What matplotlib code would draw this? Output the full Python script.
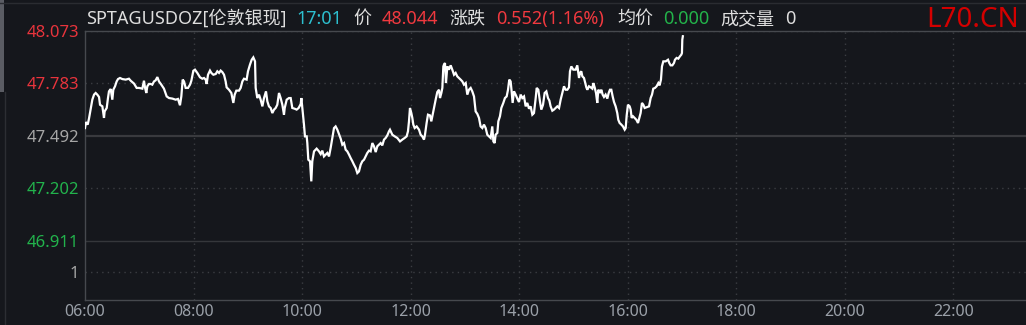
import matplotlib
matplotlib.use("Agg")
import matplotlib.pyplot as plt
from matplotlib.patches import Rectangle
from matplotlib.lines import Line2D

# ---- data: minutes since 06:00 and price ----
minutes = [
    0, 1, 3, 4.4, 6.3, 8.1, 10.0, 11.8, 13.6, 15.5, 16.6, 19.2, 21.0, 21.7, 24.0, 25.4, 26.5, 28.4,
    30.2, 31.3, 33.2, 35.0, 36.5, 38.7, 41.3, 45.0, 48.6, 50.5, 54.2, 57.1, 59.7, 63.4, 65.2, 66.3,
    67.8, 68.9, 70.8, 72.6, 74.4, 76.3, 78.1, 80.0, 81.8, 84.4, 87.3, 90.3, 92.9, 96.6, 100.2, 102.8,
    105.0, 106.5, 108.0, 109.5, 111.3, 113.9, 116.1, 117.6, 119.8, 121.6, 124.2, 127.1, 129.7,
    131.6, 133.4, 134.5, 136.0, 138.2, 139.7, 141.9, 144.5, 146.3, 148.2, 150.0, 151.8, 153.7, 155.5,
    156.6, 159.2, 161.8, 164.0, 165.5, 167.3, 170.3, 172.1, 174.0, 175.8, 178.7, 180.2, 182.4, 184.3,
    186.1, 188.0, 188.7, 190.5, 192.4, 194.2, 196.1, 197.9, 200.1, 201.6, 203.4, 205.3, 207.1, 209.0,
    210.8, 212.6, 214.5, 216.3, 218.2, 220.0, 220.8, 223.0, 225.5, 227.4, 229.2, 231.8, 234.0, 236.2,
    238.5, 239.2, 240.3, 242.1, 243.2, 245.1, 245.8, 246.9, 248.8, 250.2, 251.3, 253.2, 256.1, 258.7,
    260.6, 262.4,
    264.2, 266.1, 267.9, 269.8, 271.6, 273.5, 275.3, 277.1, 279.0, 280.8, 282.7, 284.5, 286.4, 288.2,
    290.0, 291.9, 293.7, 295.6, 297.4, 299.3, 301.1, 302.9, 304.8, 306.6, 308.5, 310.3, 312.1, 314.0,
    315.8, 317.7, 319.5, 321.4, 323.2, 325.0, 326.9, 328.7, 330.6, 332.4, 334.3, 336.1, 337.2, 339.8,
    342.4, 345.3, 348.3, 350.8, 353.4, 355.6, 357.1, 358.2, 359.3, 360.8, 361.9, 363.0, 364.5, 366.7,
    369.3, 371.1, 372.9, 374.8, 375.9, 377.7, 379.2, 381.4, 382.9, 384.0, 385.9, 387.7, 389.5, 391.4,
    392.5, 394.0, 395.1, 396.2,
    396.9, 398.0, 399.1, 400.6, 402.4, 404.3, 406.1, 408.0, 409.8, 411.6, 413.5, 415.3, 417.2, 419.0,
    420.9, 422.7, 424.5, 426.4, 428.2, 430.1, 431.9, 433.8, 435.6, 437.4, 439.3, 441.1, 443.0, 444.8,
    446.7, 448.5, 450.3, 451.5, 452.9, 454.0, 455.9, 457.0, 458.8, 460.3, 462.5, 464.3, 466.2, 467.7,
    469.1, 470.6, 471.7, 472.8, 474.3, 476.1, 478.0, 479.8, 481.7, 483.5, 485.4, 487.2, 489.0, 490.9,
    492.7, 494.6, 496.4, 498.3, 499.4, 501.2, 503.0, 504.5, 506.4, 508.2, 510.1, 511.9, 513.4, 514.8,
    516.7, 518.5, 520.4, 522.2, 524.1, 525.9, 527.7, 529.6,
    531.4, 533.3, 535.1, 536.2, 537.7, 539.9, 542.5, 544.3, 546.2, 547.3, 548.7, 549.9, 551.7, 552.8,
    554.3, 555.4, 557.2, 559.1, 560.9, 562.0, 563.5, 565.0, 566.4, 567.5, 569.4, 570.9, 572.3, 573.8,
    575.6, 577.5, 579.0, 580.4, 581.9, 583.4, 584.9, 586.7, 588.5, 589.6, 591.1, 593.0, 594.8, 596.7,
    597.8, 598.9, 600.3, 602.2, 603.3, 604.4, 605.9, 607.7, 609.6, 611.4, 612.9, 614.3, 615.8, 617.3,
    618.8, 621.0, 623.6, 625.4, 626.9, 628.3, 630.2, 632.0, 633.9, 635.3, 636.8, 637.9, 639.4, 642.0,
    644.6, 646.0, 647.5, 649.4, 651.2, 652.3, 654.1, 656.0, 657.8, 659.3, 660.0, 660.4, 661.0,
]
prices = [
    47.536, 47.569, 47.555, 47.588, 47.643, 47.693, 47.721, 47.730, 47.721, 47.708, 47.665, 47.656, 47.592, 47.628, 47.647, 47.702, 47.739, 47.752,
    47.693, 47.748, 47.767, 47.794, 47.807, 47.813, 47.807, 47.804, 47.809, 47.798, 47.782, 47.758, 47.758, 47.754, 47.798, 47.761,
    47.730, 47.767, 47.780, 47.780, 47.776, 47.794, 47.800, 47.818, 47.794, 47.776, 47.754, 47.711, 47.702, 47.699, 47.693, 47.697,
    47.662, 47.711, 47.804, 47.794, 47.758, 47.758, 47.776, 47.798, 47.853, 47.859, 47.841, 47.817, 47.809,
    47.813, 47.804, 47.780, 47.831, 47.854, 47.841, 47.831, 47.835, 47.850, 47.841, 47.854, 47.846, 47.831, 47.794,
    47.761, 47.748, 47.730, 47.675, 47.721, 47.743, 47.743, 47.758, 47.794, 47.809, 47.804, 47.850, 47.887, 47.914,
    47.927, 47.905, 47.758, 47.702, 47.721, 47.693, 47.656, 47.702, 47.739, 47.684, 47.656, 47.647, 47.619, 47.638,
    47.647, 47.665, 47.730, 47.702, 47.665, 47.610, 47.647, 47.693, 47.702, 47.702, 47.647, 47.643, 47.638, 47.647,
    47.669, 47.702, 47.647, 47.555, 47.490, 47.490, 47.453, 47.361, 47.352, 47.241, 47.352, 47.407, 47.422, 47.407,
    47.392, 47.411,
    47.379, 47.389, 47.398, 47.379, 47.426, 47.481, 47.536, 47.545, 47.527, 47.503, 47.477, 47.444, 47.453, 47.416,
    47.407, 47.389, 47.370, 47.352, 47.333, 47.315, 47.287, 47.296, 47.333, 47.352, 47.361, 47.379, 47.398, 47.411,
    47.407, 47.453, 47.435, 47.403, 47.435, 47.444, 47.453, 47.440, 47.472, 47.481, 47.496, 47.518, 47.527, 47.499,
    47.490, 47.481, 47.462, 47.472, 47.481, 47.490, 47.518, 47.573, 47.647, 47.619, 47.592, 47.555, 47.536, 47.545,
    47.527, 47.499, 47.490, 47.472, 47.499, 47.564, 47.610, 47.606, 47.573, 47.601, 47.647, 47.693, 47.735, 47.748,
    47.702, 47.730, 47.758, 47.877,
    47.887, 47.896, 47.785, 47.877, 47.859, 47.883, 47.859, 47.831, 47.841, 47.822, 47.813, 47.804, 47.794, 47.776,
    47.785, 47.721, 47.748, 47.758, 47.739, 47.711, 47.628, 47.614, 47.592, 47.545, 47.536, 47.555, 47.536, 47.499,
    47.490, 47.481, 47.545, 47.462, 47.453, 47.499, 47.509, 47.573, 47.601, 47.647, 47.675, 47.702, 47.711, 47.748,
    47.804, 47.794, 47.739, 47.675, 47.739, 47.721, 47.699, 47.680, 47.721, 47.702, 47.711, 47.656, 47.675, 47.643,
    47.656, 47.610, 47.619, 47.702, 47.758, 47.748, 47.684, 47.638, 47.665, 47.730, 47.739, 47.702, 47.688, 47.656,
    47.632, 47.638, 47.647, 47.656, 47.647, 47.693, 47.730, 47.767,
    47.748, 47.748, 47.761, 47.850, 47.877, 47.859, 47.859, 47.883, 47.813, 47.841, 47.850, 47.822, 47.813, 47.791,
    47.761, 47.748, 47.767, 47.761, 47.754, 47.785, 47.761, 47.730, 47.675, 47.748, 47.735, 47.748, 47.721, 47.708,
    47.721, 47.699, 47.730, 47.748, 47.748, 47.711, 47.680, 47.656, 47.619, 47.582, 47.564, 47.555, 47.545, 47.527,
    47.536, 47.606, 47.665, 47.656, 47.638, 47.592, 47.601, 47.592, 47.582, 47.564, 47.592, 47.619, 47.675, 47.665,
    47.647, 47.651, 47.656, 47.702, 47.721, 47.754, 47.758, 47.767, 47.785, 47.772, 47.804, 47.877, 47.905, 47.905,
    47.914, 47.896, 47.883, 47.883, 47.896, 47.914, 47.924, 47.920, 47.933, 47.942, 47.951, 48.025, 48.044,
]

y_ticks = [48.073, 47.783, 47.492, 47.202, 46.911, 46.741]
y_labels = ["48.073", "47.783", "47.492", "47.202", "46.911", "1"]
y_colors = ["#e8343c", "#e8343c", "#a6a6a6", "#22b34c", "#22b34c", "#a6a6a6"]
y_styles = ["dotted", "dotted", "solid_mid", "dotted", "solid", "dotted"]
x_ticks = [0, 120, 240, 360, 480, 600, 720, 840, 960]
x_labels = ["06:00", "08:00", "10:00", "12:00", "14:00", "16:00", "18:00", "20:00", "22:00"]

BG = "#15171c"
GRID = "#3b3d42"
W, H = 1026, 325

plt.rcParams["font.family"] = ["Noto Sans", "Noto Sans CJK SC", "DejaVu Sans"]

fig = plt.figure(figsize=(W / 100, H / 100), dpi=100, facecolor=BG)
ax = fig.add_axes([85 / W, (H - 300) / H, 1 - 85 / W, 269 / H], facecolor=BG)

ax.set_xlim(0, 1040.4)
ax.set_ylim(46.5845, 48.073)

# gridlines
for v, st in zip(y_ticks, y_styles):
    if st == "dotted":
        ax.axhline(v, color=GRID, lw=1.0, ls=(0, (1, 3)), zorder=1)
    elif st == "solid_mid":
        ax.axhline(v, color="#393a3e", lw=1.6, zorder=1)
    elif st == "solid":
        ax.axhline(v, color="#35373b", lw=1.0, zorder=1)
for t in x_ticks[1:]:
    ax.axvline(t, color=GRID, lw=1.0, ls=(0, (1, 3)), zorder=1)

ax.plot(minutes, prices, color="white", lw=1.6, zorder=3, solid_joinstyle="miter")

ax.spines["right"].set_visible(False)
for s in ["top", "bottom", "left"]:
    ax.spines[s].set_color("#46494e")
    ax.spines[s].set_linewidth(1.0)

ax.set_yticks(y_ticks)
ax.set_yticklabels(y_labels, fontsize=12)
for lab, c in zip(ax.get_yticklabels(), y_colors):
    lab.set_color(c)
ax.set_xticks(x_ticks)
ax.set_xticklabels(x_labels, fontsize=11.5, color="#9aa0a8")
ax.tick_params(axis="y", length=0, pad=4)
ax.tick_params(axis="x", length=0, pad=3)

# UI chrome: left strip and top rule
fig.add_artist(Rectangle((0, 1 - 92 / H), 4 / W, 92 / H, transform=fig.transFigure,
                         facecolor="#5a5c63", edgecolor="none"))
fig.add_artist(Line2D([4.5 / W, 4.5 / W], [0, 1 - 92 / H], transform=fig.transFigure,
                      color="#2c2e33", lw=1))
fig.add_artist(Line2D([0, 1], [1 - 3 / H, 1 - 3 / H], transform=fig.transFigure,
                      color="#2a2c31", lw=1))

# header
def ftxt(x, s, color, size=13, **kw):
    fig.text(x / W, 1 - 24 / H, s, color=color, fontsize=size, va="baseline", ha="left", **kw)

WHITE = "#dedede"
ftxt(86, "SPTAGUSDOZ[伦敦银现]", WHITE)
ftxt(296, "17:01", "#2dbfcf")
ftxt(353, "价", WHITE)
ftxt(382, "48.044", "#f0393f")
ftxt(449, "涨跌", WHITE)
ftxt(496, "0.552(1.16%)", "#f0393f")
ftxt(617, "均价", WHITE)
ftxt(663, "0.000", "#23b34a")
ftxt(720, "成交量", WHITE)
ftxt(785, "0", WHITE)
fig.text(1019 / W, 1 - 27 / H, "L70.CN", color="#d40000", fontsize=20, va="baseline", ha="right")

fig.savefig("out.png", dpi=100, facecolor=BG)
